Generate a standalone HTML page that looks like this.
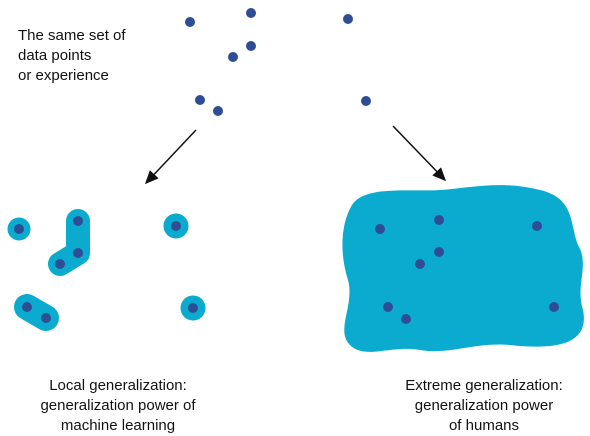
<!DOCTYPE html>
<html><head><meta charset="utf-8"><style>
body{margin:0;background:#fff;width:590px;height:436px;overflow:hidden}
svg{display:block}
text{font-family:"Liberation Sans",sans-serif;font-size:15px;fill:#111}
</style></head><body>
<svg width="590" height="436" viewBox="0 0 590 436">
<defs><marker id="ah" markerWidth="10" markerHeight="10" refX="8" refY="5" orient="auto"><path d="M0,1 L9,5 L0,9 z" fill="#111"/></marker></defs>
<g>
<text x="18" y="40">The same set of</text><text x="18" y="60">data points</text><text x="18" y="80">or experience</text></g>
<g id="top"></g>
<line x1="196" y1="130" x2="146" y2="183" stroke="#111" stroke-width="1.5" marker-end="url(#ah)"/>
<line x1="393" y1="126" x2="445" y2="180" stroke="#111" stroke-width="1.5" marker-end="url(#ah)"/>
<g fill="#0aabcf" stroke="#0aabcf">
<circle cx="19" cy="229" r="11"/><circle cx="176" cy="226" r="12"/><circle cx="193" cy="308" r="12"/>
<polyline points="78,221 78,253 60,264" fill="none" stroke-width="24" stroke-linecap="round" stroke-linejoin="round"/>
<line x1="27" y1="307" x2="46" y2="318" stroke-width="26" stroke-linecap="round"/>
</g>
<path fill="#0aabcf" d="M352,205 C365,185 410,192 440,190 C470,188 500,180 540,190 C575,198 570,225 578,245 C590,265 575,285 583,310 C590,345 555,350 510,345 C475,342 450,355 420,350 C390,345 365,360 350,345 C335,330 355,305 348,280 C340,255 340,225 352,205 Z"/>
<g id="bottom"></g>
<g text-anchor="middle">
<text x="118" y="390">Local generalization:</text><text x="118" y="410">generalization power of</text><text x="118" y="430">machine learning</text></g>
<g text-anchor="middle">
<text x="484" y="390">Extreme generalization:</text><text x="484" y="410">generalization power</text><text x="484" y="430">of humans</text></g>
</svg>
<script>
const topX=[190,251,348,251,233,200,218,366];
const topY=[22,13,19,46,57,100,111,101];
const bottomX=[19,78,78,60,176,27,46,193,380,439,537,439,420,388,406,554];
const bottomY=[229,221,253,264,226,307,318,308,229,220,226,252,264,307,319,307];
const NS="http://www.w3.org/2000/svg";
function draw(g,xs,ys){xs.forEach((x,i)=>{const c=document.createElementNS(NS,'circle');
c.setAttribute('cx',x);c.setAttribute('cy',ys[i]);c.setAttribute('r',5);c.setAttribute('fill','#2f4d94');


g.appendChild(c);});}
draw(document.getElementById('top'),topX,topY);
draw(document.getElementById('bottom'),bottomX,bottomY);
</script>
</body></html>
